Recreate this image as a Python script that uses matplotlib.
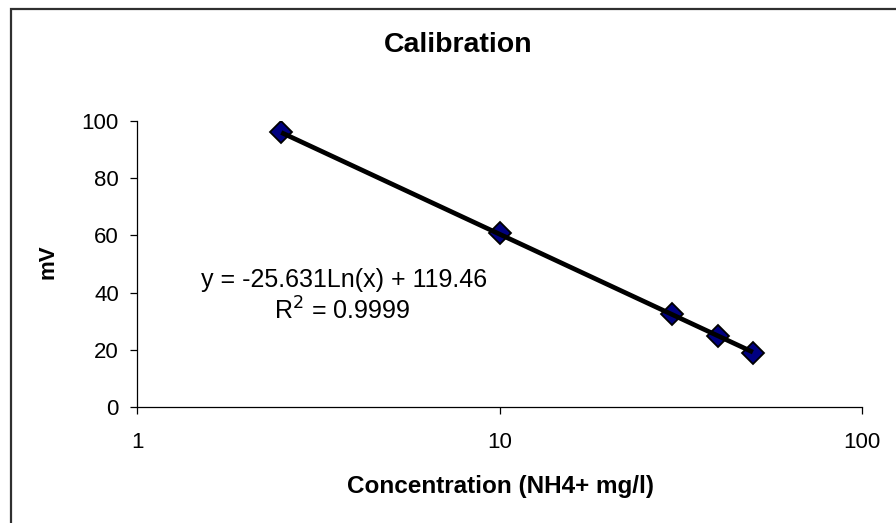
import numpy as np
import matplotlib
matplotlib.use("Agg")
import matplotlib.pyplot as plt
from matplotlib.patches import Rectangle

plt.rcParams['font.family'] = ['Liberation Sans', 'DejaVu Sans']

# Data
concentration = [2.5, 10, 30, 40, 50]
millivolts = [96, 61, 32.5, 25, 19]
slope = -25.631
intercept = 119.46
r_squared = 0.9999
x_ticks = [1, 10, 100]
x_tick_labels = ["1", "10", "100"]
y_ticks = [0, 20, 40, 60, 80, 100]

W, H = 896, 523
fig = plt.figure(figsize=(W / 100, H / 100), dpi=100)
fig.patch.set_facecolor('white')

# outer chart border (extends beyond right/bottom)
fig.add_artist(Rectangle((11 / W, -0.05), 1.2, 1 - 9 / H + 0.05,
                         transform=fig.transFigure, fill=False,
                         edgecolor='#303030', linewidth=1.6, clip_on=False))

ax = fig.add_axes([137 / W, 1 - 407 / H, (862 - 137) / W, (407 - 121) / H])
ax.set_xscale('log')
ax.set_xlim(1, 100)
ax.set_ylim(0, 100)

# markers, then trendline drawn over them
ax.plot(concentration, millivolts, linestyle='none', marker='D', markersize=11,
        markerfacecolor='#000080', markeredgecolor='black', markeredgewidth=1.3,
        zorder=2)
xt = np.linspace(min(concentration), max(concentration), 200)
ax.plot(xt, slope * np.log(xt) + intercept, color='black', linewidth=3.4,
        solid_capstyle='butt', zorder=3)

ax.set_xticks(x_ticks)
ax.set_xticklabels(x_tick_labels)
ax.xaxis.set_minor_locator(matplotlib.ticker.NullLocator())
ax.set_yticks(y_ticks)
ax.tick_params(axis='both', direction='out', length=5, width=0.9,
               labelsize=16, colors='black')
ax.tick_params(axis='x', pad=13)
ax.tick_params(axis='y', pad=8)
for s in ['top', 'right']:
    ax.spines[s].set_visible(False)
for s in ['left', 'bottom']:
    ax.spines[s].set_linewidth(0.9)

fig.text(458 / W, 1 - 45 / H, "Calibration", ha='center', va='center',
         fontsize=20.5, fontweight='bold')
fig.text(500 / W, 1 - 486 / H, "Concentration (NH4+ mg/l)", ha='center',
         va='center', fontsize=17.5, fontweight='bold')
fig.text(48 / W, 1 - 262 / H, "mV", ha='center', va='center', rotation=90,
         fontsize=16, fontweight='bold')

fig.text(344 / W, 1 - 280 / H, f"y = {slope}Ln(x) + {intercept}",
         ha='center', va='center', fontsize=18)
fig.text(342 / W, 1 - 311 / H, f"R$^2$ = {r_squared}",
         ha='center', va='center', fontsize=18)

fig.savefig("out.png", dpi=100)
